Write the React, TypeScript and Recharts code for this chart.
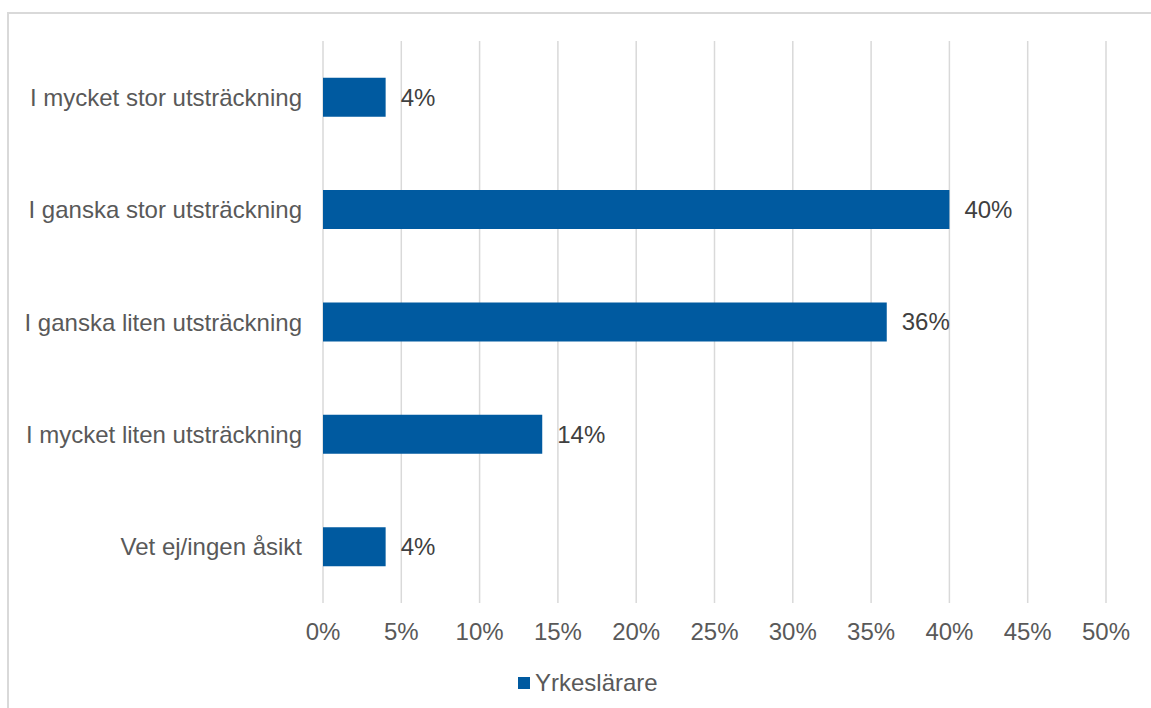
import React from "react";
import { BarChart, Bar, XAxis, YAxis, CartesianGrid, LabelList } from "recharts";

const categories = [
  "I mycket stor utsträckning",
  "I ganska stor utsträckning",
  "I ganska liten utsträckning",
  "I mycket liten utsträckning",
  "Vet ej/ingen åsikt",
];
const yrkeslarare = [4, 40, 36, 14, 4];
const xTicks = [0, 5, 10, 15, 20, 25, 30, 35, 40, 45, 50];
const seriesName = "Yrkeslärare";

const data = categories.map((c, i) => ({ name: c, value: yrkeslarare[i] }));

const FONT = "'Liberation Sans', Arial, sans-serif";
const BLUE = "#005AA0";

export default function App() {
  return (
    <div style={{ position: "absolute", left: 0, top: 0, width: 1151, height: 708, background: "#fff", overflow: "hidden" }}>
      <div style={{ position: "absolute", left: 7, top: 12, width: 1170, height: 720, border: "2px solid #d9d9d9", boxSizing: "border-box" }} />
      <div style={{ position: "absolute", left: 0, top: 0 }}>
        <BarChart
          width={1151}
          height={708}
          data={data}
          layout="vertical"
          margin={{ top: 41, right: 45, bottom: 65, left: 0 }}
          barCategoryGap="32.6%"
        >
          <CartesianGrid horizontal={false} stroke="#d9d9d9" strokeWidth={1.5} />
          <XAxis
            type="number"
            domain={[0, 50]}
            ticks={xTicks}
            tickFormatter={(v) => `${v}%`}
            axisLine={false}
            tickLine={false}
            tickMargin={14}
            height={40}
            interval={0}
            tick={{ fill: "#595959", fontSize: 24, fontFamily: FONT }}
          />
          <YAxis
            type="category"
            dataKey="name"
            width={323}
            axisLine={false}
            tickLine={false}
            tickMargin={15}
            interval={0}
            tick={{ fill: "#595959", fontSize: 24, fontFamily: FONT }}
          />
          <Bar dataKey="value" name={seriesName} fill={BLUE} isAnimationActive={false}>
            <LabelList
              dataKey="value"
              position="right"
              offset={15}
              formatter={(v: number) => `${v}%`}
              style={{ fill: "#404040", fontSize: 24, fontFamily: FONT }}
            />
          </Bar>
        </BarChart>
      </div>
      <div
        style={{
          position: "absolute",
          left: 518,
          top: 668,
          height: 30,
          display: "flex",
          alignItems: "center",
          fontFamily: FONT,
          fontSize: 24,
          color: "#595959",
          whiteSpace: "nowrap",
        }}
      >
        <span style={{ display: "inline-block", width: 12, height: 12, background: BLUE, marginRight: 5 }} />
        <span>{seriesName}</span>
      </div>
    </div>
  );
}
